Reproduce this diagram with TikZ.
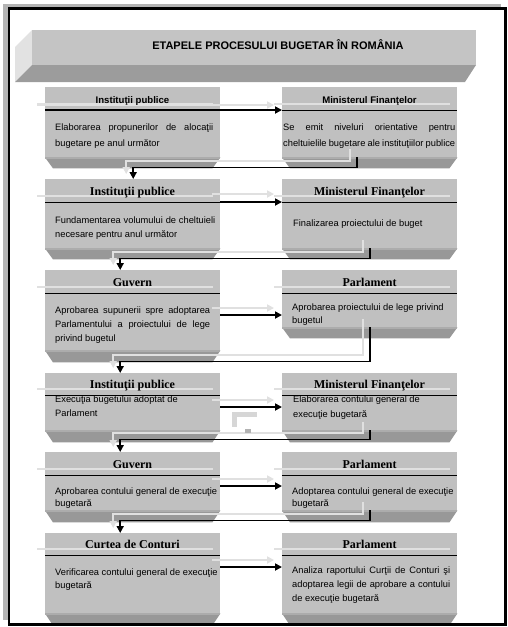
\documentclass[tikz,border=0pt]{standalone}
\usepackage{fontspec}
\setmainfont{Liberation Sans}
\newfontfamily\hdrserif{Liberation Serif}
\usetikzlibrary{arrows.meta,calc}
\definecolor{bodygray}{RGB}{192,192,192}
\definecolor{bevelgray}{RGB}{152,152,152}
\definecolor{bevellight}{RGB}{172,172,172}
\definecolor{shadowgray}{RGB}{224,224,224}
\definecolor{titlefront}{RGB}{196,196,196}
\definecolor{titleside}{RGB}{226,226,226}
\definecolor{titlebottom}{RGB}{156,156,156}
\definecolor{dotgray}{RGB}{180,180,180}
\definecolor{artgray}{RGB}{214,214,214}
\definecolor{artdark}{RGB}{178,178,178}
\newcommand\bodytxt[3]{\parbox[t]{#1}{\fontsize{9.3}{#2}\selectfont #3}}
\newcommand\mkbox[5]{%
  \node[boxbody, minimum height=#4pt] (#1) at (#2,#3) {};
  \fill[bevelgray] (#1.south west) -- (#1.south east) -- ++(-8,#5) -- ($(#1.south west)+(8,#5)$) -- cycle;
  \fill[bevellight] (#1.south west) rectangle ($(#1.south east)+(0,2)$);
}
\newcommand\hdrline[2]{%
  \draw[hshadow] ($(#1.north west)+(-8,#2-6)$) -- ($(#1.north east)+(-7,#2-6)$);
  \draw[hline] ($(#1.north west)+(0,#2)$) -- ($(#1.north east)+(0,#2)$);
}
\begin{document}
\begin{tikzpicture}[x=1pt,y=-1pt,
  boxbody/.style={fill=bodygray, draw=none, inner sep=0pt, minimum width=175pt, anchor=north west},
  hdrsans/.style={font=\fontsize{9.6}{11}\selectfont\bfseries, inner sep=0pt, anchor=base},
  hdr/.style={font=\hdrserif\fontsize{12}{14}\selectfont\bfseries, inner sep=0pt, anchor=base},
  txt/.style={inner sep=0pt, anchor=base west},
  conn/.style={line width=1.8pt, -{Triangle[length=7pt,width=7pt]}},
  connshadow/.style={line width=2pt, draw=shadowgray, -{Triangle[length=7pt,width=7pt,fill=shadowgray]}},
  hline/.style={line width=0.9pt},
  hshadow/.style={line width=1.5pt, draw=shadowgray},
]
\useasboundingbox (0,0) rectangle (508,627);
\fill[white] (0,0) rectangle (508,627);
% dotted shadow band
\fill[dotgray] (3,4) rectangle (7.6,620);
\fill[dotgray] (4,3.5) rectangle (501,7.2);

% title bar
\fill[titleside] (32,30) -- (15,47) -- (15,82) -- (32,65) -- cycle;
\fill[titlebottom] (32,65) -- (476,65) -- (465,82) -- (15,82) -- cycle;
\node[fill=titlefront, minimum width=444pt, minimum height=35pt, anchor=north west, inner sep=0pt] (T) at (32,30) {};
\node[font=\fontsize{11}{13}\selectfont\bfseries, anchor=base, inner sep=0pt] (Ttext) at (278,49) {ETAPELE PROCESULUI BUGETAR ÎN ROMÂNIA};

% boxes
\mkbox{L1}{45}{87}{70}{11}
\mkbox{R1}{282}{87}{70}{11}
\mkbox{L2}{45}{179}{69}{11}
\mkbox{R2}{282}{179}{69}{11}
\mkbox{L3}{45}{270}{80}{12}
\mkbox{R3}{282}{270}{57}{11}
\mkbox{L4}{45}{373}{57}{12}
\mkbox{R4}{282}{373}{57}{12}
\mkbox{L5}{45}{452}{58}{12}
\mkbox{R5}{282}{452}{58}{12}
\mkbox{L6}{45}{533}{80}{12}
\mkbox{R6}{282}{533}{80}{12}

% header lines
\hdrline{L1}{23}\hdrline{R1}{23}
\hdrline{L2}{23}\hdrline{R2}{23}
\hdrline{L3}{23}\hdrline{R3}{23}
\hdrline{L4}{22}\hdrline{R4}{22}
\hdrline{L5}{23}\hdrline{R5}{23}
\hdrline{L6}{22}\hdrline{R6}{22}

% connector shadows
\draw[connshadow] ($(L1.north west)+(-8,18)$) -- ($(R1.north west)+(-8,18)$);
\draw[connshadow] ($(L2.north east)+(-8,15)$) -- ($(R2.north west)+(-8,15)$);
\draw[connshadow] ($(L3.north east)+(-8,38)$) -- ($(R3.north west)+(-8,38)$);
\draw[connshadow] ($(L4.north east)+(-8,27)$) -- ($(R4.north west)+(-8,27)$);
\draw[connshadow] ($(L5.north east)+(-8,27)$) -- ($(R5.north west)+(-8,27)$);
\draw[connshadow] ($(L6.north east)+(-8,27)$) -- ($(R6.north west)+(-8,27)$);
\draw[connshadow] ($(R1.south)+(-19.5,-8)$) -- ++(0,12) -| ($(L2.north)+(-6.5,-5)$);
\draw[connshadow] ($(R2.south)+(-7,-8)$) -- ++(0,12) -| ($(L3.north)+(-19.5,-5)$);
\draw[connshadow] ($(R3.south)+(-7,-8)$) -- ++(0,36) -| ($(L4.north)+(-19.5,-5)$);
\draw[connshadow] ($(R4.south)+(-7,-8)$) -- ++(0,11) -| ($(L5.north)+(-19.5,-5)$);
\draw[connshadow] ($(R5.south)+(-7,-8)$) -- ++(0,12) -| ($(L6.north)+(-19.5,-5)$);

% small grey artefact between the boxes of row 4
\fill[artgray] (232,412) rectangle (257,417);
\fill[artgray] (232,412) rectangle (237,427);
\fill[artdark] (245,429) rectangle (251,433);

% headers
\node[hdrsans] (L1hd) at (132.5,103.5) {Instituţii publice};
\node[hdrsans] (R1hd) at (369.5,103.5) {Ministerul Finanţelor};
\node[hdr] (L2hd) at (132.5,195.5) {Instituţii publice};
\node[hdr] (R2hd) at (369.5,195.5) {Ministerul Finanţelor};
\node[hdr] (L3hd) at (132.5,286.5) {Guvern};
\node[hdr] (R3hd) at (369.5,286.5) {Parlament};
\node[hdr] (L4hd) at (132.5,388.5) {Instituţii publice};
\node[hdr] (R4hd) at (369.5,388.5) {Ministerul Finanţelor};
\node[hdr] (L5hd) at (132.5,468.5) {Guvern};
\node[hdr] (R5hd) at (369.5,468.5) {Parlament};
\node[hdr] (L6hd) at (132.5,548.5) {Curtea de Conturi};
\node[hdr] (R6hd) at (369.5,548.5) {Parlament};

% body texts
\node[txt] (L1t) at (55,130.5) {\bodytxt{158pt}{16pt}{Elaborarea propunerilor de alocaţii\linebreak bugetare pe anul următor}};
\node[txt] (R1t) at (283,130.5) {\bodytxt{174pt}{16pt}{\makebox[172pt][s]{Se emit niveluri orientative pentru}\\\makebox[172pt][s]{cheltuielile bugetare ale instituţiilor publice}}};
\node[txt] (L2t) at (55,223.5) {\bodytxt{160pt}{14pt}{Fundamentarea volumului de cheltuieli\linebreak necesare pentru anul următor}};
\node[txt] (R2t) at (293,226.5) {\bodytxt{172pt}{14pt}{Finalizarea proiectului de buget}};
\node[txt] (L3t) at (55,313.5) {\bodytxt{155pt}{14pt}{Aprobarea supunerii spre adoptarea\linebreak Parlamentului a proiectului de lege\linebreak privind bugetul}};
\node[txt] (R3t) at (292,310.5) {\bodytxt{175pt}{12.5pt}{Aprobarea proiectului de lege privind\\bugetul}};
\node[txt] (L4t) at (55,402.5) {\bodytxt{175pt}{14pt}{Execuţia bugetului adoptat de\\Parlament}};
\node[txt] (R4t) at (293,402.5) {\bodytxt{175pt}{15pt}{Elaborarea contului general de\\execuţie bugetară}};
\node[txt] (L5t) at (55,494.5) {\bodytxt{175pt}{11.5pt}{Aprobarea contului general de execuţie\\bugetară}};
\node[txt] (R5t) at (292,494.5) {\bodytxt{175pt}{11.5pt}{Adoptarea contului general de execuţie\\bugetară}};
\node[txt] (L6t) at (55,575.5) {\bodytxt{175pt}{13pt}{Verificarea contului general de execuţie\\bugetară}};
\node[txt] (R6t) at (292,573.5) {\bodytxt{158pt}{14pt}{Analiza raportului Curţii de Conturi şi\linebreak adoptarea legii de aprobare a contului\linebreak de execuţie bugetară}};

% connectors
\draw[conn] ($(L1.north west)+(0,23)$) -- ($(R1.north west)+(0,23)$);
\draw[conn] ($(L2.north east)+(0,23)$) -- ($(R2.north west)+(0,23)$);
\draw[conn] ($(L3.north east)+(0,45)$) -- ($(R3.north west)+(0,45)$);
\draw[conn] ($(L4.north east)+(0,34)$) -- ($(R4.north west)+(0,34)$);
\draw[conn] ($(L5.north east)+(0,34)$) -- ($(R5.north west)+(0,34)$);
\draw[conn] ($(L6.north east)+(0,34)$) -- ($(R6.north west)+(0,34)$);
\draw[conn] ($(R1.south)+(-12.5,0)$) -- ++(0,10) -| ($(L2.north)+(0.5,0)$);
\draw[conn] (R2.south) -- ++(0,10) -| ($(L3.north)+(-12.5,0)$);
\draw[conn] (R3.south) -- ++(0,34) -| ($(L4.north)+(-12.5,0)$);
\draw[conn] (R4.south) -- ++(0,9) -| ($(L5.north)+(-12.5,0)$);
\draw[conn] (R5.south) -- ++(0,10) -| ($(L6.north)+(-12.5,0)$);

% frame
\draw[line width=2.5pt] (9,8.5) rectangle (505.5,624.5);
\end{tikzpicture}
\end{document}
